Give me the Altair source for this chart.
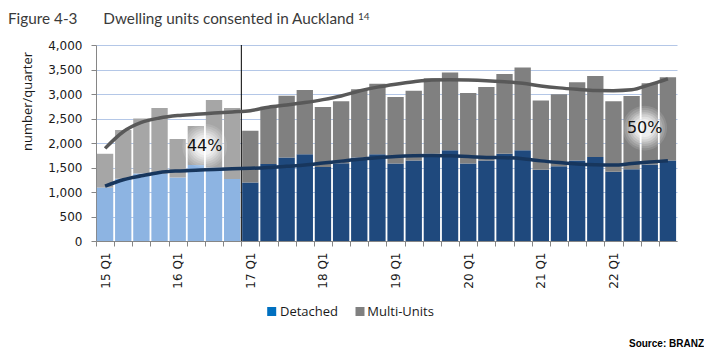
import altair as alt
import pandas as pd

# ---------------- data ----------------
quarters = [f"{y} Q{q}" for y in range(15, 23) for q in range(1, 5)]

detached = [1090, 1270, 1380, 1380, 1295, 1550, 1500, 1265,
            1195, 1570, 1705, 1770, 1510, 1585, 1705, 1770,
            1580, 1645, 1780, 1850, 1580, 1645, 1780, 1850,
            1455, 1525, 1645, 1715, 1415, 1465, 1560, 1645]

multi_units = [690, 995, 1120, 1335, 785, 795, 1380, 1450,
               1055, 1170, 1260, 1310, 1225, 1265, 1390, 1440,
               1360, 1420, 1540, 1590, 1440, 1500, 1630, 1690,
               1410, 1470, 1595, 1650, 1435, 1495, 1660, 1695]

trend_total = [1890, 2230, 2420, 2510, 2560, 2585, 2610, 2635,
               2660, 2730, 2775, 2825, 2885, 2960, 3060, 3140,
               3200, 3250, 3285, 3290, 3285, 3272, 3250, 3220,
               3165, 3125, 3095, 3070, 3068, 3085, 3190, 3310]

trend_detached = [1120, 1250, 1330, 1400, 1430, 1445, 1460, 1475,
                  1483, 1500, 1525, 1550, 1590, 1630, 1670, 1700,
                  1725, 1740, 1745, 1738, 1725, 1705, 1700, 1680,
                  1635, 1600, 1570, 1555, 1550, 1580, 1610, 1640]

series_names = ["Detached", "Multi-Units"]
annotation_text = ["44%", "50%"]
annotation_quarter = ["16 Q2", "22 Q3"]
annotation_value = [1935, 2305]

rows = []
for i, q in enumerate(quarters):
    period = "early" if int(q[:2]) < 17 else "late"
    rows.append({"qtr": q, "units": detached[i], "grp": f"Detached-{period}", "ord": 0})
    rows.append({"qtr": q, "units": multi_units[i], "grp": f"Multi-{period}", "ord": 1})
bar_df = pd.DataFrame(rows)

tt_df = pd.DataFrame({"qtr": quarters, "units": trend_total})
td_df = pd.DataFrame({"qtr": quarters, "units": trend_detached})

x_scale = alt.Scale(domain=quarters, paddingInner=0.1, paddingOuter=0.05)
y_scale = alt.Scale(domain=[0, 4000], nice=False)

x_axis = alt.Axis(
    title=None, labelAngle=-90,
    labelExpr="indexof(datum.value, 'Q1') >= 0 ? datum.value : ''",
    labelFont="DejaVu Sans", labelFontSize=12, labelColor="#1a1a1a",
    labelPadding=6, tickSize=5, tickColor="#868686", domainColor="#868686",
    tickOffset=-9.08, labelOffset=9.08, labelOverlap=False, grid=False,
)
y_axis = alt.Axis(
    title="number/quarter", values=list(range(0, 4001, 500)), format=",.0f",
    labelFont="DejaVu Sans", labelFontSize=12, labelColor="#1a1a1a",
    labelPadding=9, tickSize=5, tickColor="#868686", domainColor="#868686",
    grid=True, gridColor="#B4C7E7",
    titleFont="Open Sans", titleFontSize=13, titleFontWeight="normal",
    titleColor="#1a1a1a", titleX=-69, titleY=56, titleAngle=-90,
    titleAlign="center", titleBaseline="middle",
)

X = alt.X("qtr:N", scale=x_scale, axis=x_axis)
Y = alt.Y("units:Q", scale=y_scale, axis=y_axis)

bars = alt.Chart(bar_df).mark_bar().encode(
    x=X,
    y=alt.Y("units:Q", scale=y_scale, axis=y_axis, stack="zero"),
    color=alt.Color(
        "grp:N",
        scale=alt.Scale(
            domain=["Detached-early", "Multi-early", "Detached-late", "Multi-late"],
            range=["#8DB4E2", "#A6A6A6", "#1F497D", "#808080"],
        ),
        legend=None,
    ),
    order=alt.Order("ord:Q"),
)

divider = alt.Chart(pd.DataFrame({"qtr": ["17 Q1"]})).mark_rule(
    color="black", strokeWidth=1, xOffset=-9
).encode(x=X)

line_total = alt.Chart(tt_df).mark_line(
    color="#595959", strokeWidth=3.5, interpolate="monotone"
).encode(x=X, y=Y)

line_det = alt.Chart(td_df).mark_line(
    color="#17365D", strokeWidth=3.5, interpolate="monotone"
).encode(x=X, y=Y)

ann_layers = []
for txt, q, v, off in zip(annotation_text, annotation_quarter, annotation_value, [8.8, -5.1]):
    d = pd.DataFrame({"qtr": [q], "units": [v], "label": [txt]})
    for sz, op in [(2000, 0.12), (1650, 0.14), (1300, 0.17), (1000, 0.22),
                   (750, 0.28), (520, 0.35), (320, 0.45)]:
        ann_layers.append(
            alt.Chart(d).mark_circle(size=sz, color="#ffffff", opacity=op, xOffset=off)
            .encode(x=X, y=Y)
        )
    ann_layers.append(
        alt.Chart(d).mark_text(
            font="DejaVu Sans", fontSize=16, color="#111111", baseline="middle",
            align="center", dx=off
        ).encode(x=X, y=Y, text="label:N")
    )

# legend (drawn manually below the axis)
leg_sq1 = alt.Chart(pd.DataFrame({"label": [series_names[0]]})).mark_square(
    size=81, color="#0070C0", opacity=1).encode(x=alt.value(175.7), y=alt.value(266.5))
leg_tx1 = alt.Chart(pd.DataFrame({"label": [series_names[0]]})).mark_text(
    align="left", baseline="middle", font="Open Sans", fontSize=13, color="#1a1a1a"
).encode(x=alt.value(184), y=alt.value(266.5), text="label:N")
leg_sq2 = alt.Chart(pd.DataFrame({"label": [series_names[1]]})).mark_square(
    size=81, color="#808080", opacity=1).encode(x=alt.value(264), y=alt.value(266.5))
leg_tx2 = alt.Chart(pd.DataFrame({"label": [series_names[1]]})).mark_text(
    align="left", baseline="middle", font="Open Sans", fontSize=13, color="#1a1a1a"
).encode(x=alt.value(271.3), y=alt.value(266.5), text="label:N")

# heading and source
fig_no = alt.Chart(pd.DataFrame({"t": ["Figure 4-3"]})).mark_text(
    align="left", baseline="top", font="Lato", fontSize=15.3, color="#3a3a3a"
).encode(x=alt.value(-88), y=alt.value(-33), text="t:N")
fig_title = alt.Chart(pd.DataFrame({"t": ["Dwelling units consented in Auckland"]})).mark_text(
    align="left", baseline="top", font="Lato", fontSize=15.3, color="#3a3a3a"
).encode(x=alt.value(7.3), y=alt.value(-33), text="t:N")
fig_sup = alt.Chart(pd.DataFrame({"t": ["14"]})).mark_text(
    align="left", baseline="top", font="Lato", fontSize=10, color="#3a3a3a"
).encode(x=alt.value(262), y=alt.value(-33), text="t:N")
source = alt.Chart(pd.DataFrame({"t": ["Source: BRANZ"]})).mark_text(
    align="right", baseline="middle", font="Liberation Sans", fontSize=10,
    fontWeight="bold", color="#000000"
).encode(x=alt.value(608), y=alt.value(298.5), text="t:N")

chart = alt.layer(
    bars, divider, line_total, line_det, *ann_layers,
    leg_sq1, leg_tx1, leg_sq2, leg_tx2, fig_no, fig_title, fig_sup, source,
).properties(
    width=581, height=196,
    padding={"left": 0, "top": 4, "right": 0, "bottom": 0},
).configure_view(stroke=None)

chart.save("out.html", embed_options={"renderer": "svg", "actions": False})
